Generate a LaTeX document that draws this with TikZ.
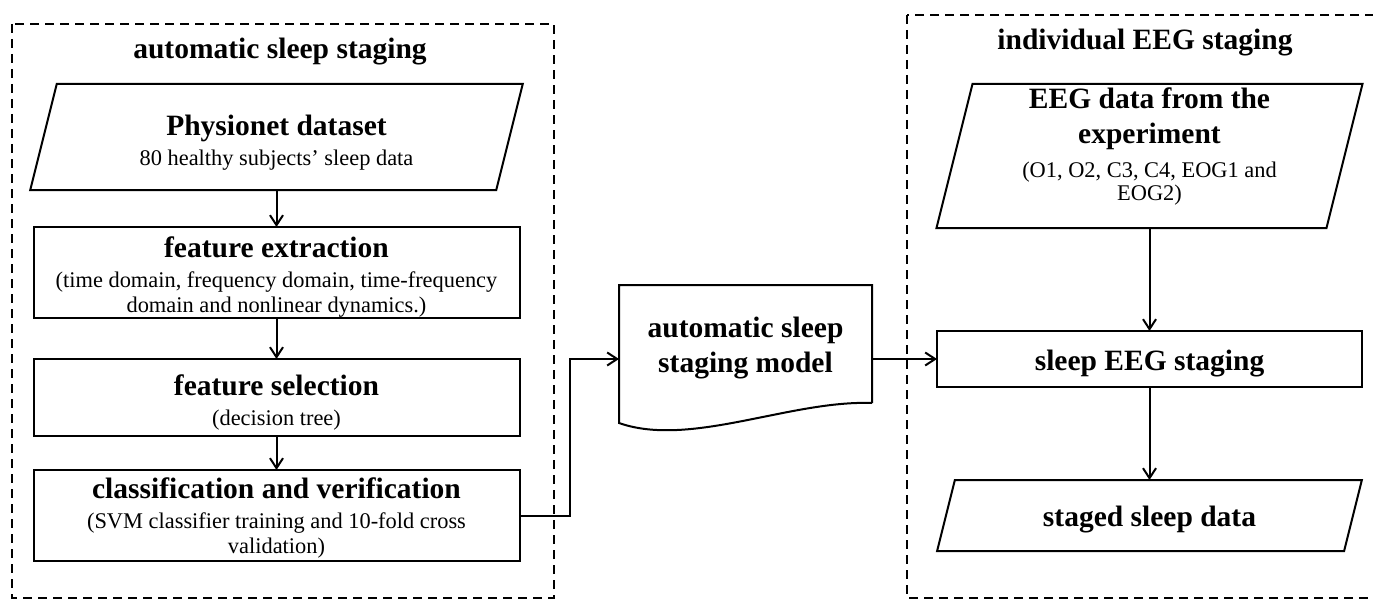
\documentclass[tikz,border=0pt]{standalone}
\usepackage{fontspec}
\setmainfont{Liberation Serif}
\usetikzlibrary{arrows.meta,calc,positioning}

\newcommand{\hdfont}{\fontsize{29.5}{35}\selectfont\bfseries}
\newcommand{\smfont}{\fontsize{22.4}{25}\selectfont\lineskiplimit=-50pt}
\newcommand{\tstrut}[1]{\rule{0pt}{#1pt}}
\newcommand{\bstrut}[1]{\rule[-#1pt]{0pt}{#1pt}}

\tikzset{
  line/.style={line width=2pt},
  group/.style={line width=1.8pt, dash pattern=on 9pt off 6pt},
  box/.style={line, draw, inner sep=0pt, outer sep=0pt, align=center, font=\smfont},
  iobox/.style={box, draw=none},
  oneline/.style={font=\hdfont, text height=22pt, text depth=0pt},
  arr/.style={line, -{Straight Barb[length=10pt,width=13pt]}},
}

\begin{document}
\begin{tikzpicture}[x=1pt,y=-1pt]
  \useasboundingbox (0,0) rectangle (1373,599);
  \clip (0,0) rectangle (1373,599);

  % dashed groups
  \draw[group] (12,24) rectangle (554,598);
  \draw[group] (907,15) rectangle (1390,598);
  \node[oneline, inner sep=0pt] (titleL) at (280,48) {automatic sleep staging};
  \node[oneline, inner sep=0pt] (titleR) at (1145,39) {individual EEG staging};

  % left column
  \node[iobox, minimum width=466, minimum height=106] (physio) at (276.5,137)
    {\tstrut{32}{\hdfont Physionet dataset}\\[5pt]80 healthy subjects' sleep data\bstrut{6}};
  \node[box, minimum width=486, minimum height=89] (fe) at (276.5,272.5)
    {\tstrut{30}{\hdfont feature extraction}\\[5pt](time domain, frequency domain, time-frequency\\domain and nonlinear dynamics.)\bstrut{6}};
  \node[box, minimum width=486, minimum height=77] (fs) at (276.5,397.5)
    {\tstrut{31}{\hdfont feature selection}\\[5pt](decision tree)\bstrut{6}};
  \node[box, minimum width=486, minimum height=91] (cv) at (276.5,515.5)
    {\tstrut{26}{\hdfont classification and verification}\\[5pt](SVM classifier training and 10-fold cross\\validation)\bstrut{6}};

  % model
  \node[iobox, minimum width=253, minimum height=118] (doc) at (745.5,344)
    {\tstrut{28}{\hdfont automatic sleep}\\[10pt]{\hdfont staging model}\bstrut{7}};

  % right column
  \node[iobox, minimum width=390, minimum height=144] (eeg) at (1149.5,156)
    {\tstrut{22}{\hdfont EEG data from the}\\[10pt]{\hdfont experiment}\\[9pt](O1, O2, C3, C4, EOG1 and\\[-2pt]EOG2)\bstrut{26}};
  \node[box, oneline, minimum width=425, minimum height=56] (stage) at (1149.5,359)
    {sleep EEG staging};
  \node[iobox, oneline, minimum width=407, minimum height=71] (staged) at (1149.5,515.5)
    {staged sleep data};

  % data shapes
  \foreach \n in {physio,eeg,staged}
    \draw[line] ($(\n.north west)!0.125!90:(\n.south west)$) -- ($(\n.north east)!0.125!90:(\n.south east)$)
      -- ($(\n.south east)!0.125!90:(\n.north east)$) -- ($(\n.south west)!0.125!90:(\n.north west)$) -- cycle;
  \draw[line] (doc.south east) -- (doc.north east) -- (doc.north west) -- ($(doc.south west)+(0,20)$)
    .. controls ($(doc.south west)+(71,45)$) and ($(doc.south east)+(-82,-3)$) .. (doc.south east);

  % connectors
  \draw[arr] (physio) -- (fe);
  \draw[arr] (fe) -- (fs);
  \draw[arr] (fs) -- (cv);
  \draw[arr] (cv.east) -- ++(50,0) |- (doc.west |- stage.west);
  \draw[arr] (doc.east |- stage.west) -- (stage.west);
  \draw[arr] (eeg) -- (stage);
  \draw[arr] (stage) -- (staged);
\end{tikzpicture}
\end{document}
